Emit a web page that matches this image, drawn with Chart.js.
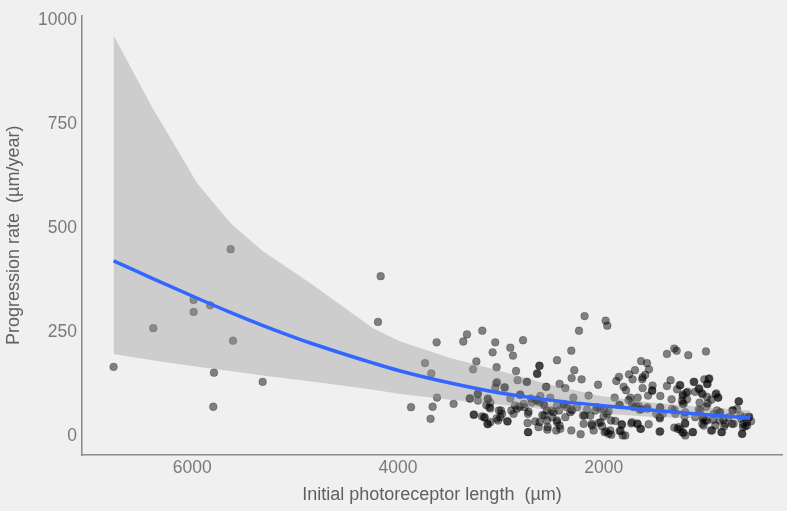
<!DOCTYPE html>
<html>
<head>
<meta charset="utf-8">
<script src="https://cdn.jsdelivr.net/npm/chart.js@4.4.1/dist/chart.umd.min.js"></script>
<style>
  html, body { margin: 0; padding: 0; background: #f0f0f0; }
  #wrap { width: 787px; height: 511px; }
</style>
</head>
<body>
<div id="wrap"><canvas id="grafico" width="787" height="511"></canvas></div>
<script>
// ---- data ----
const xTicks = [2000, 4000, 6000];
const yTicks = [0, 250, 500, 750, 1000];

// initial photoreceptor length (µm)
const photoreceptorLength = [
  6765, 6379, 5987, 5987, 5825, 5627, 5604, 5789, 5316, 5796, 4169, 4195, 3874,
  3684, 3664, 3621, 3738, 3677, 3625, 3460, 3366, 3330, 3181,
  3239, 3271, 3300, 3262, 3223, 3223, 3159, 3132, 3126, 3113,
  3081, 3055, 3042, 3038, 3055, 3019, 3028, 2989, 2964, 2938,
  2909, 2883, 2853, 2838, 2785, 2750, 2814, 2863, 2818, 2899,
  2741, 2734, 2737, 2646, 2624, 2562, 2649, 2627, 2598, 2552,
  2549, 2510, 2455, 2430, 2374, 2387, 2316, 2313, 2287, 2296,
  2309, 2316, 2225, 2216, 2241, 2187, 1982, 1966, 2148, 2202,
  2163, 2119, 2056, 2066, 2031, 1998, 1992, 1953, 1969, 1895,
  1888, 1849, 1837, 1817, 1827, 1878, 1852, 1807, 1784, 1755,
  1759, 1742, 1720, 1697, 1638, 1580, 1561, 1597, 1623, 1671,
  1658, 1638, 1577, 1710, 1726, 1674, 1638, 1564, 1623, 1526,
  1531, 1570, 1451, 1454, 1458, 1458, 1386, 1315, 1292, 1179,
  1007, 1351, 1386, 1341, 1263, 1305, 1283, 1237, 1208, 1234,
  1234, 1208, 1198, 1191, 1211, 1137, 1127, 1113, 1072, 1069,
  1078, 1049, 1023, 981, 997, 997, 913, 890, 1036, 1043,
  1016, 958, 933, 874, 874, 829, 858, 787, 751, 705,
  686, 673, 625, 586, 569, 647, 625, 654, 608, 738,
  3184, 3103, 3006, 2877, 2770, 2698, 2585, 2503, 2455, 2462,
  2430, 2358, 2260, 2552, 2435, 2666, 2634, 2520, 1626, 1529,
  1288, 1846, 1726, 1684, 1652, 1580, 1451, 1490, 1425, 1312,
  1930, 1823, 1733, 1671, 1454, 1937, 1846, 1791, 1645,
  1451, 1273, 2083, 2034, 2002, 1953, 2187, 2131, 2196, 2115,
  2050, 2017, 2099, 1976, 1927, 2455, 2423, 2374, 2326, 2488,
  2455, 2391, 2319, 2746, 2627, 2649, 2559, 3045, 2964, 3304,
  3227, 3129, 3103, 3142, 3103, 3265, 3161, 3126, 3042, 2999,
  2935, 2909, 2812, 2844, 2779, 2708, 2656, 2617, 2731, 2578,
  2737, 2624, 2546, 2578, 1256, 1120, 974, 991, 1078, 1040,
  1185, 1230, 906, 887, 955, 991, 1004, 690, 744, 868,
  900, 1062, 1224, 1240, 1337, 1215, 1111, 1036, 997, 939,
  836, 754, 666, 593, 647, 657, 608, 1208, 1030, 916,
  819, 1315, 1256, 1224, 1133, 948, 851
];

// progression rate (µm/year)
const progressionRate = [
  167, 260, 328, 299, 315, 450, 230, 153, 131, 71, 385, 275, 70,
  42, 71, 93, 176, 151, 226, 78, 228, 245, 254,
  180, 161, 91, 52, 103, 86, 46, 30, 91, 70,
  202, 226, 166, 130, 117, 62, 38, 54, 118, 36,
  213, 194, 157, 135, 231, 131, 99, 74, 71, 62,
  32, 10, 54, 150, 169, 119, 88, 82, 51, 38,
  16, 62, 183, 126, 116, 76, 206, 140, 159, 93,
  62, 14, 5, 137, 254, 289, 278, 266, 98, 50,
  64, 30, 124, 70, 34, 65, 10, 6, 54, 93,
  37, 76, 13, 2, 29, 133, 143, 119, 111, 149,
  87, 93, 137, 159, 181, 176, 161, 148, 142, 93,
  73, 65, 70, 70, 34, 31, 18, 29, 116, 122,
  111, 98, 97, 70, 46, 11, 198, 211, 206, 195,
  204, 135, 121, 89, 123, 54, 18, 10, 2, 97,
  78, 58, 105, 89, 32, 10, 131, 107, 115, 81,
  64, 104, 137, 138, 126, 95, 101, 93, 46, 30,
  38, 14, 54, 57, 38, 24, 10, 46, 62, 66,
  84, 50, 46, 47, 36, 30, 24, 6, 34, 30,
  48, 34, 46, 54, 70, 81, 78, 46, 38, 14,
  26, 70, 70, 62, 62, 36, 22, 93, 137, 109,
  113, 75, 78, 72, 64, 66, 69, 54, 55, 63,
  38, 28, 31, 29, 43, 14, 13, 2, 18,
  12, 22, 62, 66, 48, 60, 50, 50, 30, 26,
  32, 24, 14, 12, 4, 34, 18, 46, 58, 58,
  74, 78, 66, 131, 170, 151, 119, 128, 117, 91,
  101, 89, 81, 75, 67, 52, 45, 29, 43, 62,
  36, 91, 101, 66, 78, 91, 86, 97, 59, 74,
  10, 34, 22, 50, 123, 131, 139, 126, 114, 101,
  107, 101, 103, 93, 88, 79, 71, 84, 62, 58,
  62, 62, 78, 86, 66, 48, 46, 42, 38, 40,
  40, 30, 42, 46, 22, 6, 26, 30, 26, 26,
  30, 21, 16, 8, 10, 14, 10
];

// fitted curve and its confidence band
const fitLength = [6765, 6389, 5951, 5630, 5319, 4824, 4240, 3978, 3492, 3006, 2520, 2034, 1548, 1062, 576];
const fitRate   = [422, 380, 332, 298, 267, 222, 176, 157, 128, 104, 87, 74, 63, 53, 44];
const fitUpper  = [964, 791, 608, 513, 446, 363, 259, 228, 188, 157, 124, 97, 81, 71, 62];
const fitLower  = [198, 183, 167, 157, 146, 131, 112, 102, 88, 76, 64, 55, 47, 43, 38];

// ---- helpers ----
function pares(xs, ys) {
  const n = Math.min(xs.length, ys.length);
  const out = [];
  for (let i = 0; i < n; i++) out.push({ x: xs[i], y: ys[i] });
  return out;
}

const fundo = {
  id: "fundo",
  beforeDraw(chart) {
    const c = chart.ctx;
    c.save();
    c.fillStyle = "#f0f0f0";
    c.fillRect(0, 0, chart.width, chart.height);
    c.restore();
  },
};

const fonteTick = { family: "'Liberation Sans', Arial, sans-serif", size: 17.5 };
const fonteTitulo = { family: "'Liberation Sans', Arial, sans-serif", size: 18 };

new Chart(document.getElementById("grafico"), {
  type: "scatter",
  data: {
    datasets: [
      {
        type: "line",
        data: pares(fitLength, fitRate),
        borderColor: "#3366ff",
        borderWidth: 3.5,
        pointRadius: 0,
        fill: false,
        cubicInterpolationMode: "monotone",
        order: 0,
      },
      {
        type: "line",
        data: pares(fitLength, fitUpper),
        borderWidth: 0,
        pointRadius: 0,
        tension: 0,
        backgroundColor: "rgba(153, 153, 153, 0.4)",
        fill: "+1",
        order: 1,
      },
      {
        type: "line",
        data: pares(fitLength, fitLower),
        borderWidth: 0,
        pointRadius: 0,
        tension: 0,
        fill: false,
        order: 2,
      },
      {
        data: pares(photoreceptorLength, progressionRate),
        pointRadius: 3.9,
        backgroundColor: "rgba(0, 0, 0, 0.47)",
        borderColor: "rgba(0, 0, 0, 0.25)",
        borderWidth: 0.8,
        order: 3,
      },
    ],
  },
  options: {
    responsive: false,
    animation: false,
    devicePixelRatio: 1,
    layout: { padding: { top: 10, right: 5, left: 0, bottom: 0 } },
    plugins: {
      legend: { display: false },
      tooltip: { enabled: false },
    },
    scales: {
      x: {
        type: "linear",
        reverse: true,
        min: 268,
        max: 7072,
        afterBuildTicks: (s) => { s.ticks = xTicks.map((v) => ({ value: v })); },
        afterFit: (s) => { s.height = 56; },
        grid: { display: false, drawTicks: false },
        border: { display: true, color: "#8a8a8a", width: 1.5 },
        ticks: {
          color: "#7a7a7a",
          font: fonteTick,
          padding: 3,
          maxRotation: 0,
          callback: (v) => String(v),
        },
        title: {
          display: true,
          text: "Initial photoreceptor length  (µm)",
          color: "#606060",
          font: fonteTitulo,
          padding: { top: 0, bottom: 5 },
        },
      },
      y: {
        type: "linear",
        min: -45,
        max: 1012,
        afterBuildTicks: (s) => { s.ticks = yTicks.map((v) => ({ value: v })); },
        afterFit: (s) => { s.width = 82; },
        grid: { display: false, drawTicks: false },
        border: { display: true, color: "#8a8a8a", width: 1.5 },
        ticks: {
          color: "#7a7a7a",
          font: fonteTick,
          padding: 5,
          callback: (v) => String(v),
        },
        title: {
          display: true,
          text: "Progression rate  (µm/year)",
          color: "#606060",
          font: fonteTitulo,
          padding: { top: 3, bottom: 0 },
        },
      },
    },
  },
  plugins: [fundo],
});
</script>
</body>
</html>
